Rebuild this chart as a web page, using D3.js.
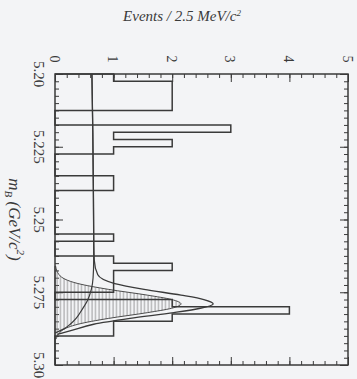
<!DOCTYPE html>
<html>
<head>
<meta charset="utf-8">
<script src="https://cdn.jsdelivr.net/npm/d3@7/dist/d3.min.js"></script>
<style>
  html, body { margin: 0; padding: 0; background: #f3f4f6; }
  svg { display: block; }
</style>
</head>
<body>
<svg id="chart" width="357" height="379"></svg>
<script>
// B candidate mass distribution, drawn sideways: mass runs down, events run right.
const binStart = 5.20;
const binWidth = 0.0025;
const binCounts = [
  1, 2, 2, 2, 2, 0, 0, 3, 1, 2,
  1, 0, 0, 0, 1, 1, 0, 0, 0, 0,
  0, 0, 1, 0, 0, 1, 2, 1, 1, 1,
  0, 2, 4, 2, 1, 1, 0, 0, 0, 0
];

const eventTicks = [0, 1, 2, 3, 4, 5];
const eventTickLabels = ["0", "1", "2", "3", "4", "5"];
const massTicks = [5.20, 5.225, 5.25, 5.275, 5.30];
const massTickLabels = ["5.20", "5.225", "5.25", "5.275", "5.30"];

// Fit components (events per bin)
const bgMass   = [5.200, 5.220, 5.240, 5.255, 5.264, 5.270, 5.274, 5.278, 5.281, 5.284, 5.286, 5.2875, 5.289];
const bgEvents = [0.63, 0.645, 0.655, 0.66, 0.66, 0.65, 0.62, 0.55, 0.46, 0.36, 0.26, 0.16, 0.0];

const sigMass   = [5.266, 5.269, 5.272, 5.274, 5.276, 5.2775, 5.279, 5.2805, 5.282, 5.284, 5.286, 5.288, 5.291];
const sigEvents = [0.01, 0.07, 0.39, 0.91, 1.58, 1.99, 2.15, 1.99, 1.58, 0.91, 0.39, 0.13, 0.02];

const totMass   = [5.200, 5.220, 5.240, 5.255, 5.264, 5.269, 5.272, 5.274, 5.276, 5.2775, 5.279, 5.2805, 5.282, 5.284, 5.286, 5.288, 5.2895];
const totEvents = [0.63, 0.645, 0.655, 0.66, 0.67, 0.73, 1.02, 1.52, 2.15, 2.54, 2.70, 2.48, 2.03, 1.28, 0.66, 0.30, 0.04];

const W = 357, H = 379;
const plotL = 55, plotR = 348, plotT = 74, plotB = 365;
const ink = "#3a3a3a";

const svg = d3.select("#chart");
svg.append("rect").attr("width", W).attr("height", H).attr("fill", "#f3f4f6");

const x = d3.scaleLinear().domain([0, 5]).range([plotL, plotR]);
const y = d3.scaleLinear().domain([5.20, 5.30]).range([plotT, plotB]);

// hatch for the signal component
const defs = svg.append("defs");
const pat = defs.append("pattern")
  .attr("id", "hatch").attr("patternUnits", "userSpaceOnUse")
  .attr("width", 3.5).attr("height", 3.5);
pat.append("line").attr("x1", 1).attr("y1", 0).attr("x2", 1).attr("y2", 3.5)
  .attr("stroke", "#777").attr("stroke-width", 0.7);

// ticks: minor and major on all four sides, pointing inwards
function styleAxis(g) {
  g.attr("color", ink);
  g.select(".domain").remove();
  g.selectAll("line").attr("stroke-width", 1);
}
const minorEvents = d3.range(0, 26).map(i => i * 0.2);
const minorMass = d3.range(0, 41).map(i => binStart + i * binWidth);

svg.append("g").attr("transform", `translate(0,${plotT})`)
  .call(d3.axisTop(x).tickValues(minorEvents).tickSize(-4).tickFormat("")).call(styleAxis);
svg.append("g").attr("transform", `translate(0,${plotT})`)
  .call(d3.axisTop(x).tickValues(eventTicks).tickSize(-8).tickFormat("")).call(styleAxis);
svg.append("g").attr("transform", `translate(0,${plotB})`)
  .call(d3.axisBottom(x).tickValues(minorEvents).tickSize(-4).tickFormat("")).call(styleAxis);
svg.append("g").attr("transform", `translate(0,${plotB})`)
  .call(d3.axisBottom(x).tickValues(eventTicks).tickSize(-8).tickFormat("")).call(styleAxis);
svg.append("g").attr("transform", `translate(${plotL},0)`)
  .call(d3.axisLeft(y).tickValues(minorMass).tickSize(-4).tickFormat("")).call(styleAxis);
svg.append("g").attr("transform", `translate(${plotL},0)`)
  .call(d3.axisLeft(y).tickValues(massTicks).tickSize(-8).tickFormat("")).call(styleAxis);
svg.append("g").attr("transform", `translate(${plotR},0)`)
  .call(d3.axisRight(y).tickValues(minorMass).tickSize(-4).tickFormat("")).call(styleAxis);
svg.append("g").attr("transform", `translate(${plotR},0)`)
  .call(d3.axisRight(y).tickValues(massTicks).tickSize(-8).tickFormat("")).call(styleAxis);

// signal component, hatched
const sigPts = sigMass.map((m, i) => ({ m, v: sigEvents[i] }));
svg.append("path").datum(sigPts)
  .attr("d", d3.area().curve(d3.curveMonotoneY)
    .y(d => y(d.m)).x0(x(0)).x1(d => x(d.v)))
  .attr("fill", "url(#hatch)").attr("stroke", ink).attr("stroke-width", 0.9);

// histogram outline
const hist = [{ c: 0, e: binStart }]
  .concat(binCounts.map((c, i) => ({ c, e: binStart + i * binWidth })))
  .concat([{ c: 0, e: binStart + binCounts.length * binWidth }]);
svg.append("path").datum(hist)
  .attr("d", d3.line().curve(d3.curveStepBefore).x(d => x(d.c)).y(d => y(d.e)))
  .attr("fill", "none").attr("stroke", ink).attr("stroke-width", 1.5);

// background and total fit curves
const bgPts = bgMass.map((m, i) => ({ m, v: bgEvents[i] }));
svg.append("path").datum(bgPts)
  .attr("d", d3.line().curve(d3.curveMonotoneY).x(d => x(d.v)).y(d => y(d.m)))
  .attr("fill", "none").attr("stroke", ink).attr("stroke-width", 1.2);
const totPts = totMass.map((m, i) => ({ m, v: totEvents[i] }));
svg.append("path").datum(totPts)
  .attr("d", d3.line().curve(d3.curveMonotoneY).x(d => x(d.v)).y(d => y(d.m)))
  .attr("fill", "none").attr("stroke", ink).attr("stroke-width", 1.3);

// frame
svg.append("rect").attr("x", plotL).attr("y", plotT)
  .attr("width", plotR - plotL).attr("height", plotB - plotT)
  .attr("fill", "none").attr("stroke", ink).attr("stroke-width", 1.5);

// tick labels, rotated with the figure
const font = "'Liberation Serif', 'Times New Roman', serif";
svg.selectAll("text.ev").data(eventTicks).join("text").attr("class", "ev")
  .attr("transform", d => `translate(${x(d) - 1},59) rotate(90)`)
  .attr("text-anchor", "middle").attr("dominant-baseline", "central")
  .attr("font-family", font).attr("font-size", 14).attr("fill", ink)
  .text((d, i) => eventTickLabels[i]);
svg.selectAll("text.ms").data(massTicks).join("text").attr("class", "ms")
  .attr("transform", d => `translate(39,${y(d)}) rotate(90)`)
  .attr("text-anchor", "middle").attr("dominant-baseline", "central")
  .attr("font-family", font).attr("font-size", 15).attr("fill", ink)
  .text((d, i) => massTickLabels[i]);

// axis titles
const t1 = svg.append("text").attr("x", 182).attr("y", 21)
  .attr("text-anchor", "middle").attr("font-family", font)
  .attr("font-style", "italic").attr("font-size", 15).attr("fill", ink);
t1.append("tspan").text("Events / 2.5 MeV/c");
t1.append("tspan").attr("baseline-shift", "super").attr("font-size", 9).text("2");

const t2 = svg.append("text")
  .attr("transform", `translate(15,${(plotT + plotB) / 2}) rotate(90)`)
  .attr("text-anchor", "middle").attr("dominant-baseline", "central")
  .attr("font-family", font).attr("font-style", "italic")
  .attr("font-size", 17).attr("fill", ink);
t2.append("tspan").text("m");
t2.append("tspan").attr("baseline-shift", "sub").attr("font-size", 11).text("B");
t2.append("tspan").text(" (GeV/c");
t2.append("tspan").attr("baseline-shift", "super").attr("font-size", 11).text("2");
t2.append("tspan").text(")");
</script>
</body>
</html>
